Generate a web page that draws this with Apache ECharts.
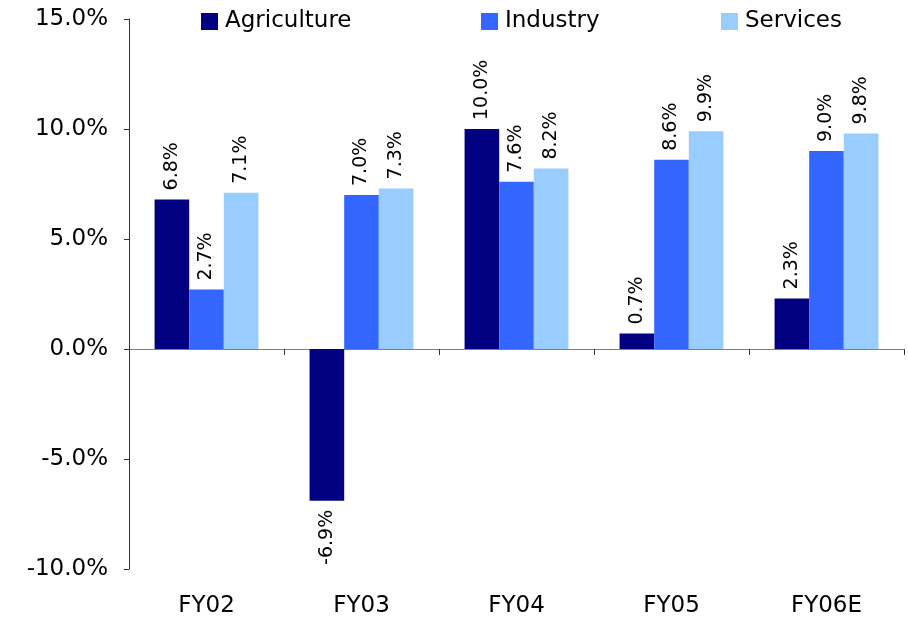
<!DOCTYPE html>
<html>
<head>
<meta charset="utf-8">
<script src="https://cdn.jsdelivr.net/npm/echarts@6/dist/echarts.min.js"></script>
<style>
  html, body { margin: 0; padding: 0; background: #fff; }
  #chart { width: 908px; height: 619px; }
</style>
</head>
<body>
<div id="chart"></div>
<script>
// Real GDP growth by sector, fiscal years
const categories = ['FY02', 'FY03', 'FY04', 'FY05', 'FY06E'];
const agriculture = [6.8, -6.9, 10.0, 0.7, 2.3];
const industry = [2.7, 7.0, 7.6, 8.6, 9.0];
const services = [7.1, 7.3, 8.2, 9.9, 9.8];
const seriesNames = ['Agriculture', 'Industry', 'Services'];
const seriesColors = ['#000080', '#3366FF', '#99CCFF'];

const FONT = '"DejaVu Sans", Verdana, sans-serif';

function pct(v) { return v.toFixed(1) + '%'; }

// rotated value labels; negative bars get their label below the bar end
function withLabels(values) {
  return values.map(v => {
    if (v < 0) {
      return {
        value: v,
        label: { position: 'bottom', align: 'right' }
      };
    }
    return v;
  });
}

function makeSeries(name, values, color) {
  return {
    name: name,
    type: 'bar',
    xAxisIndex: 0,
    data: withLabels(values),
    itemStyle: { color: color },
    barGap: '0%',
    barCategoryGap: '33%',
    label: {
      show: true,
      position: 'top',
      rotate: 90,
      align: 'left',
      verticalAlign: 'middle',
      distance: 9,
      fontFamily: FONT,
      fontSize: 19,
      color: '#000',
      formatter: p => pct(p.value)
    }
  };
}

const legendText = { fontFamily: FONT, fontSize: 23, color: '#000', padding: [0, 0, 0, 2] };
const legendLefts = [196, 476, 716];

const chart = echarts.init(document.getElementById('chart'), null, { renderer: 'canvas' });
chart.setOption({
  animation: false,
  backgroundColor: '#fff',
  legend: seriesNames.map((n, i) => ({
    data: [n],
    left: legendLefts[i],
    top: 5,
    itemWidth: 17,
    itemHeight: 17,
    icon: 'rect',
    textStyle: legendText,
    selectedMode: false
  })),
  grid: { left: 129, right: 4, top: 19, bottom: 50, containLabel: false },
  xAxis: [
    {
      type: 'category',
      data: categories,
      axisLine: { onZero: true, lineStyle: { color: '#7f7f7f', width: 1 } },
      axisTick: { show: true, length: 6, lineStyle: { color: '#333' } },
      axisLabel: { show: false }
    },
    {
      type: 'category',
      data: categories,
      position: 'bottom',
      axisLine: { show: false, onZero: false },
      axisTick: { show: false },
      axisLabel: { show: true, margin: 26, fontFamily: FONT, fontSize: 23, color: '#000' }
    }
  ],
  yAxis: {
    type: 'value',
    min: -10,
    max: 15,
    interval: 5,
    axisLine: { show: true, lineStyle: { color: '#333', width: 1 } },
    axisTick: { show: true, length: 5, lineStyle: { color: '#333' } },
    splitLine: { show: false },
    axisLabel: {
      margin: 21,
      fontFamily: FONT,
      fontSize: 23,
      color: '#000',
      formatter: v => pct(v)
    }
  },
  series: [
    makeSeries(seriesNames[0], agriculture, seriesColors[0]),
    makeSeries(seriesNames[1], industry, seriesColors[1]),
    makeSeries(seriesNames[2], services, seriesColors[2])
  ]
});
</script>
</body>
</html>
